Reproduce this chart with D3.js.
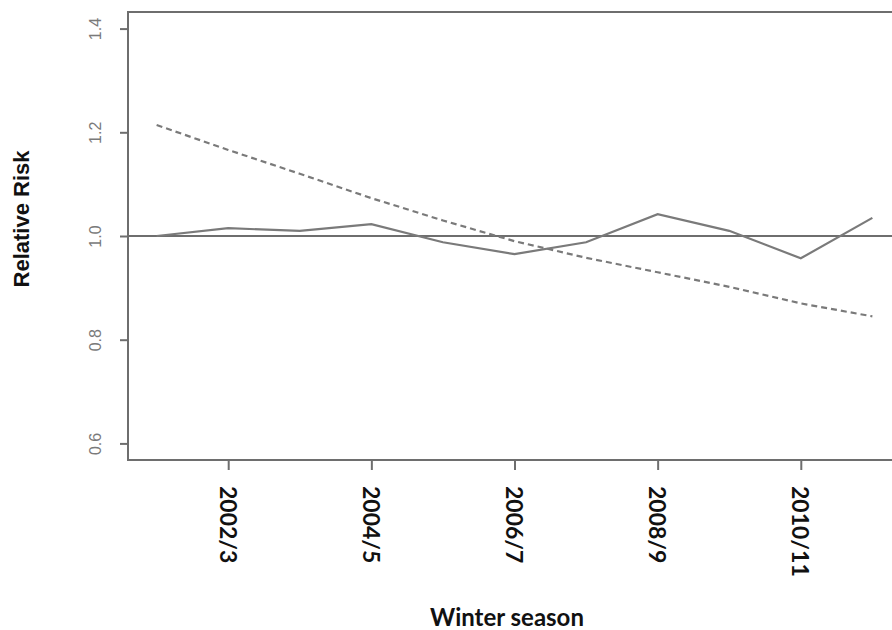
<!DOCTYPE html>
<html>
<head>
<meta charset="utf-8">
<script src="https://cdn.jsdelivr.net/npm/d3@7"></script>
<style>
  html, body { margin: 0; padding: 0; background: #fff; }
  svg { display: block; }
</style>
</head>
<body>
<svg id="chart" width="892" height="630"></svg>
<script>
// ---- data ----
const seasons = ["2001/2","2002/3","2003/4","2004/5","2005/6","2006/7","2007/8","2008/9","2009/10","2010/11","2011/12"];
const observedRR = [1.000, 1.015, 1.010, 1.023, 0.988, 0.965, 0.988, 1.042, 1.010, 0.957, 1.035];
const trendRR    = [1.214, 1.166, 1.120, 1.073, 1.030, 0.990, 0.958, 0.930, 0.902, 0.870, 0.845];
const xTickLabels = ["2002/3","2004/5","2006/7","2008/9","2010/11"];
const yTickValues = [0.6, 0.8, 1.0, 1.2, 1.4];
const referenceRR = 1.0;

// ---- layout ----
const svg = d3.select("#chart");
const plotLeft = 128, plotRight = 901, plotTop = 12, plotBottom = 460;

const x = d3.scaleLinear().domain([-0.4, seasons.length - 1 + 0.4]).range([plotLeft, plotRight]);
const y = d3.scaleLinear().domain([0.568, 1.432]).range([plotBottom, plotTop]);

const lineGrey = "#7a7a7a";

// box
svg.append("rect")
  .attr("x", plotLeft).attr("y", plotTop)
  .attr("width", plotRight - plotLeft).attr("height", plotBottom - plotTop)
  .attr("fill", "none").attr("stroke", "#6e6e6e").attr("stroke-width", 2);

// y axis
const yAxis = d3.axisLeft(y).tickValues(yTickValues).tickSize(8).tickPadding(10)
  .tickFormat(d3.format(".1f"));
const gy = svg.append("g").attr("transform", `translate(${plotLeft},0)`).call(yAxis);
gy.select(".domain").remove();
gy.selectAll(".tick line").attr("stroke", "#6e6e6e").attr("stroke-width", 2);
gy.selectAll(".tick text")
  .attr("fill", "#7a7a7a")
  .style("font-family", "'Liberation Sans', Arial, sans-serif")
  .style("font-size", "16px")
  .attr("x", null).attr("dy", null)
  .attr("text-anchor", "middle")
  .attr("transform", "translate(-27,0) rotate(-90)")
  .attr("y", 0);

// x axis
const xTickIdx = xTickLabels.map(l => seasons.indexOf(l));
const xAxis = d3.axisBottom(x).tickValues(xTickIdx).tickSize(10)
  .tickFormat(i => seasons[i]);
const gx = svg.append("g").attr("transform", `translate(0,${plotBottom})`).call(xAxis);
gx.select(".domain").remove();
gx.selectAll(".tick line").attr("stroke", "#6e6e6e").attr("stroke-width", 2);
gx.selectAll(".tick text")
  .attr("fill", "#111")
  .style("font-family", "Lato, 'Open Sans', sans-serif")
  .style("font-weight", "bold")
  .style("font-size", "23px")
  .attr("y", null).attr("dy", null)
  .attr("text-anchor", "start")
  .attr("dominant-baseline", "central")
  .attr("transform", "translate(0,26) rotate(90)");

// reference line
svg.append("line")
  .attr("x1", plotLeft).attr("x2", plotRight)
  .attr("y1", y(referenceRR)).attr("y2", y(referenceRR))
  .attr("stroke", "#6e6e6e").attr("stroke-width", 2);

const line = d3.line().x((d, i) => x(i)).y(d => y(d));

svg.append("path").datum(trendRR)
  .attr("d", line).attr("fill", "none")
  .attr("stroke", lineGrey).attr("stroke-width", 2.2)
  .attr("stroke-dasharray", "6,4");

svg.append("path").datum(observedRR)
  .attr("d", line).attr("fill", "none")
  .attr("stroke", lineGrey).attr("stroke-width", 2.2);

// axis titles
svg.append("text")
  .attr("x", 507).attr("y", 626)
  .attr("text-anchor", "middle")
  .style("font-family", "Lato, 'Open Sans', sans-serif")
  .style("font-weight", "bold").style("font-size", "24px")
  .attr("fill", "#111")
  .text("Winter season");

svg.append("text")
  .attr("transform", "translate(29,219) rotate(-90)")
  .attr("text-anchor", "middle")
  .style("font-family", "'Liberation Sans', Arial, sans-serif")
  .style("font-weight", "bold").style("font-size", "22px")
  .attr("fill", "#111")
  .text("Relative Risk");
</script>
</body>
</html>
